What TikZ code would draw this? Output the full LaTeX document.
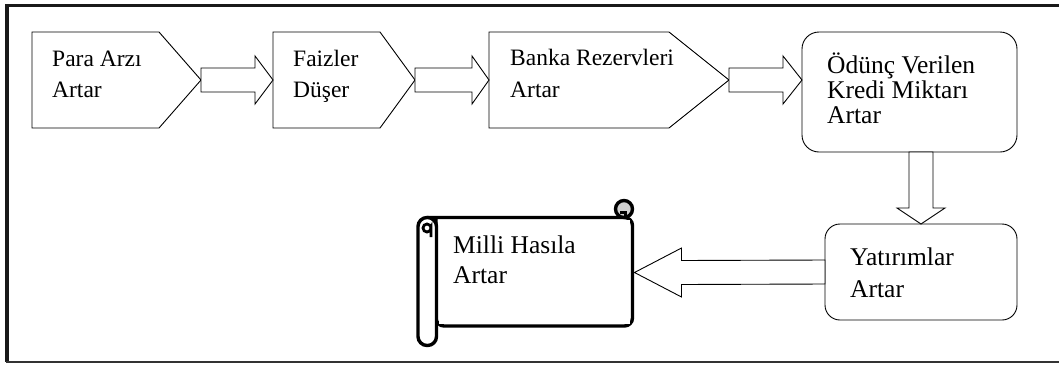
\documentclass[tikz,border=0pt]{standalone}
\usepackage{fontspec}
\setmainfont{Liberation Serif}
\usetikzlibrary{calc}
\begin{document}
\begin{tikzpicture}[x=1pt,y=-1pt,
  line join=miter,
  shp/.style={draw=black, line width=0.9pt, fill=white},
  blk/.style={draw=black, line width=0.9pt, fill=white},
  rbx/.style={draw=black, line width=0.9pt, fill=white, inner sep=0pt, outer sep=0pt},
  scr/.style={draw=black, line width=3.4pt, fill=white},
  ta/.style={font=\fontsize{23.5}{28}\selectfont, anchor=base west, inner sep=0pt},
  tb/.style={font=\fontsize{25.5}{28}\selectfont, anchor=base west, inner sep=0pt}
]
\useasboundingbox (0,0) rectangle (1059,370);
% frame
\draw[line width=3.5pt, black!90] (1059,5.5) -- (7,5.5) -- (7,362);
\draw[line width=2.5pt, black!80] (5.5,362) -- (1059,362);

% pentagon boxes
\draw[shp] (32,32) -- (159,32) -- (201,80) coordinate (p1tip) -- (159,128) -- (32,128) -- cycle;
\draw[shp] (273,32) -- (380,32) -- (415,80) coordinate (p2tip) -- (380,128) -- (273,128) -- cycle;
\draw[shp] (489,32) -- (669,32) -- (729,80) coordinate (p3tip) -- (669,128) -- (489,128) -- cycle;
\coordinate (p2w) at (273,80);
\coordinate (p3w) at (489,80);

% rounded boxes
\node[rbx, minimum width=215, minimum height=120, rounded corners=17] (r1) at (909.5,92) {};
\node[rbx, minimum width=192, minimum height=96, rounded corners=15] (r2) at (921,272) {};
\coordinate (r1w) at ($(r1.west)+(0,-12)$);
\coordinate (r1s) at ($(r1.south)+(11.5,0)$);
\coordinate (r2n) at (r2.north);
\coordinate (r2w) at (r2.west);

% block arrows
\draw[blk] ($(p1tip)+(0,-12)$) -- ($(p2w)+(-18,-12)$) -- ($(p2w)+(-18,-24)$) -- (p2w)
  -- ($(p2w)+(-18,24)$) -- ($(p2w)+(-18,12)$) -- ($(p1tip)+(0,12)$) -- cycle;
\draw[blk] ($(p2tip)+(0,-12)$) -- ($(p3w)+(-17,-12)$) -- ($(p3w)+(-17,-24)$) -- (p3w)
  -- ($(p3w)+(-17,24)$) -- ($(p3w)+(-17,12)$) -- ($(p2tip)+(0,12)$) -- cycle;
\draw[blk] ($(p3tip)+(0,-12)$) -- ($(r1w)+(-19,-12)$) -- ($(r1w)+(-19,-24)$) -- (r1w)
  -- ($(r1w)+(-19,24)$) -- ($(r1w)+(-19,12)$) -- ($(p3tip)+(0,12)$) -- cycle;
\draw[blk] ($(r1s)+(-12,0)$) -- ($(r2n)+(-12,-16)$) -- ($(r2n)+(-24,-16)$) -- (r2n)
  -- ($(r2n)+(24,-16)$) -- ($(r2n)+(12,-16)$) -- ($(r1s)+(12,0)$) -- cycle;

% scroll
\draw[scr, rounded corners=8] (427,217.5) -- (632.5,217.5) -- (632.5,326) -- (436,326) -- (436,217.5);
\fill[white] (438.5,220) rectangle (630,323.5);
\coordinate (sE) at (634.5,272.5);
\draw[blk] ($(r2w)+(0,-12)$) -- ($(sE)+(47,-12)$) -- ($(sE)+(47,-24.5)$) -- (sE)
  -- ($(sE)+(47,24.5)$) -- ($(sE)+(47,12)$) -- ($(r2w)+(0,12)$) -- cycle;
\draw[scr, rounded corners=9] (418,217.5) rectangle (436.5,345.5);
\draw[line width=2.8pt] (431,237) -- (431,228) arc[start angle=0, end angle=360, radius=4];
\draw[scr, fill=gray!35] (624,209) circle[radius=8.5];
\draw[line width=2.4pt] (620,212.5) -- (625.5,212.5) -- (625.5,217);

% texts
\node[ta] (t1a) at (52,66) {Para Arzı};
\node[ta] (t1b) at (52,97) {Artar};
\node[ta] (t2a) at (293,66) {Faizler};
\node[ta] (t2b) at (293,97) {Düşer};
\node[ta] (t3a) at (510,65) {Banka Rezervleri};
\node[ta] (t3b) at (510,97) {Artar};
\node[tb] (t4a) at (827,73) {Ödünç Verilen};
\node[tb] (t4b) at (827,98) {Kredi Miktarı};
\node[tb] (t4c) at (827,123) {Artar};
\node[tb] (t5a) at (850,265) {Yatırımlar};
\node[tb] (t5b) at (850,297) {Artar};
\node[tb] (t6a) at (453,253) {Milli Hasıla};
\node[tb] (t6b) at (453,283) {Artar};
\end{tikzpicture}
\end{document}
